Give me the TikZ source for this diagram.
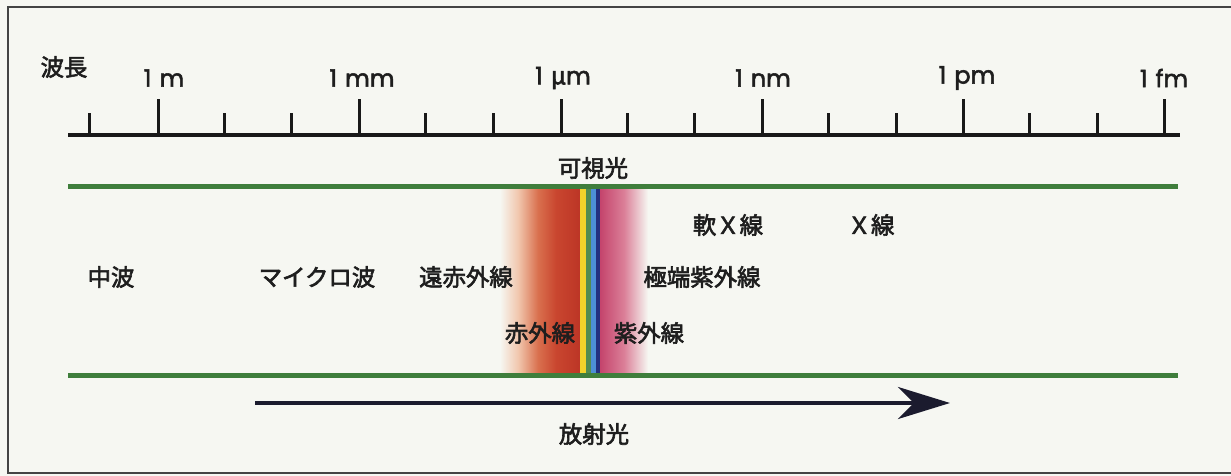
\documentclass[tikz,border=0pt]{standalone}
\usepackage{fontspec}
\newfontfamily\jp[FakeBold=2.6]{Noto Sans CJK JP}
\newfontfamily\lat[FakeBold=2.2]{Poppins}
\usetikzlibrary{arrows.meta}
\definecolor{bg}{HTML}{F6F7F2}
\definecolor{ink}{HTML}{1E1E1E}
\definecolor{bandgreen}{HTML}{3F7E3C}
\definecolor{frame}{HTML}{444444}
\definecolor{navy}{HTML}{1B1B2E}
\definecolor{peach}{HTML}{F1C7AE}
\definecolor{orangered}{HTML}{D9704E}
\definecolor{midred}{HTML}{C9462F}
\definecolor{deepred}{HTML}{BC3526}
\definecolor{vyellow}{HTML}{F2D22A}
\definecolor{lblue}{HTML}{4C8FD6}
\definecolor{dblue}{HTML}{23307F}
\definecolor{pinka}{HTML}{C4446C}
\definecolor{pinkb}{HTML}{DB7F98}
\begin{document}
\begin{tikzpicture}[x=0.5pt,y=-0.5pt,
  jlab/.style={font=\jp\fontsize{11.7pt}{12pt}\selectfont, text=ink, inner sep=0pt},
  wl/.style={font=\lat\fontsize{12pt}{13pt}\selectfont, text=ink, inner sep=0pt},
  axisline/.style={line width=2pt, draw=black!90},
  majortick/.style={line width=1.5pt, draw=black!90},
  minortick/.style={line width=1.5pt, draw=black!90},
  greenline/.style={line width=2.5pt, draw=bandgreen},
  framestyle/.style={line width=1pt, draw=frame},
  beam/.style={line width=2pt, draw=navy, -{Stealth[length=26pt,width=16pt,inset=8pt]}}]
\fill[bg] (0,0) rectangle (1231,476);
\useasboundingbox (0,0) rectangle (1231,476);
% frame
\draw[framestyle] (1231,7) -- (8,7) -- (8,473) -- (1231,473);
% spectrum band
\shade[left color=bg, right color=peach] (500,188) rectangle (518,373);
\shade[left color=peach, right color=orangered] (518,188) rectangle (538,373);
\shade[left color=orangered, right color=midred] (538,188) rectangle (556,373);
\shade[left color=midred, right color=deepred] (556,188) rectangle (580.5,373);
\fill[vyellow] (580,188) rectangle (586,373);
\fill[bandgreen!90] (586,188) rectangle (591,373);
\fill[lblue] (591,188) rectangle (596,373);
\fill[dblue] (596,188) rectangle (600,373);
\shade[left color=pinka, right color=pinkb] (600,188) rectangle (624,373);
\shade[left color=pinkb, right color=bg] (624,188) rectangle (648,373);
% green band lines
\coordinate (gtl) at (68,186);
\coordinate (gtr) at (1178,186);
\coordinate (gbl) at (68,375);
\coordinate (gbr) at (1178,375);
\draw[greenline] (gtl) -- (gtr);
\draw[greenline] (gbl) -- (gbr);
% axis
\coordinate (axl) at (68,135);
\coordinate (axr) at (1180,135);
\draw[axisline] (axl) -- (axr);
\foreach \x in {158,359,561,762,963,1164} \draw[majortick] (\x,135) -- (\x,99);
\foreach \x in {89,224,291,425,493,627,694,828,896,1029,1097} \draw[minortick] (\x,135) -- (\x,113);
% axis labels
\node[jlab] (wave) at (64,67) {波長};
\node[wl] (m) at (164,78) {1\,\,m};
\node[wl] (mm) at (362,78) {1\,\,mm};
\node[wl] (um) at (563,78) {1\,\,{\jp μ}m};
\node[wl] (nm) at (763,78) {1\,\,nm};
\node[wl] (pm) at (967,78) {1\,\,pm};
\node[wl] (fm) at (1164,78) {1\,\,fm};
% band labels
\node[jlab] (vis) at (593,168) {可視光};
\node[jlab] (sxr) at (728,225) {軟Ｘ線};
\node[jlab] (xr) at (871,225) {Ｘ線};
\node[jlab] (mw) at (111,277) {中波};
\node[jlab] (micro) at (317,277) {マイクロ波};
\node[jlab] (fir) at (466,277) {遠赤外線};
\node[jlab] (euv) at (702,277) {極端紫外線};
\node[jlab] (ir) at (540,333) {赤外線};
\node[jlab] (uv) at (649,333) {紫外線};
% arrow
\coordinate (a0) at (255,403);
\coordinate (a1) at (950,403);
\draw[beam] (a0) -- (a1);
\node[jlab] (sr) at (594,434) {放射光};
\end{tikzpicture}
\end{document}
